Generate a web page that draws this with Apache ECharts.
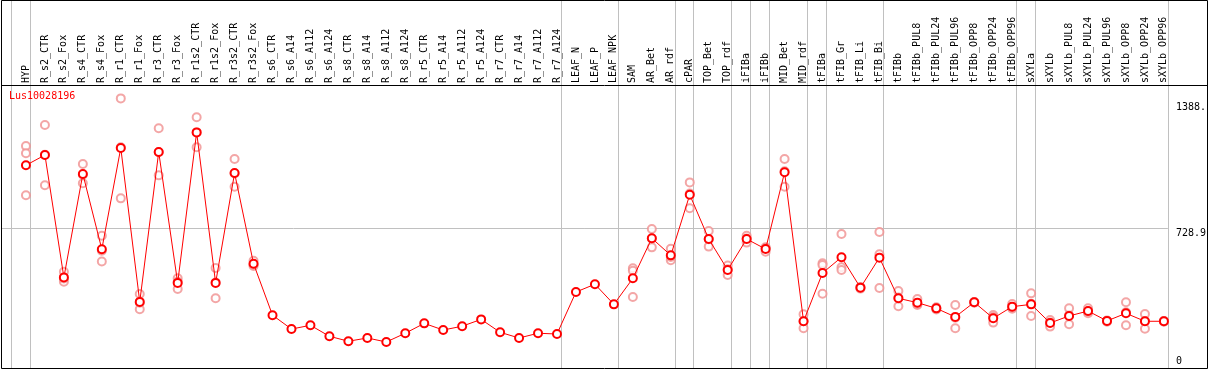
<!DOCTYPE html>
<html>
<head>
<meta charset="utf-8">
<script src="https://cdn.jsdelivr.net/npm/echarts@6/dist/echarts.min.js"></script>
<style>
html,body{margin:0;padding:0;background:#fff;}
#chart{width:1209px;height:370px;}
</style>
</head>
<body>
<div id="chart"></div>
<script>
// ---------- data ----------
const categories = [
  'HYP','R_s2_CTR','R_s2_Fox','R_s4_CTR','R_s4_Fox','R_r1_CTR','R_r1_Fox','R_r3_CTR','R_r3_Fox',
  'R_r1s2_CTR','R_r1s2_Fox','R_r3s2_CTR','R_r3s2_Fox','R_s6_CTR','R_s6_A14','R_s6_A112','R_s6_A124',
  'R_s8_CTR','R_s8_A14','R_s8_A112','R_s8_A124','R_r5_CTR','R_r5_A14','R_r5_A112','R_r5_A124',
  'R_r7_CTR','R_r7_A14','R_r7_A112','R_r7_A124','LEAF_N','LEAF_P','LEAF_NPK','SAM','AR_Bet','AR_rdf',
  'cPAR','TOP_Bet','TOP_rdf','iFIBa','iFIBb','MID_Bet','MID_rdf','tFIBa','tFIB_Gr','tFIB_Li','tFIB_Bi',
  'tFIBb','tFIBb_PUL8','tFIBb_PUL24','tFIBb_PUL96','tFIBb_OPP8','tFIBb_OPP24','tFIBb_OPP96',
  'sXYLa','sXYLb','sXYLb_PUL8','sXYLb_PUL24','sXYLb_PUL96','sXYLb_OPP8','sXYLb_OPP24','sXYLb_OPP96'
];
const meanValues = [
  1059,1113,469,1013,617,1150,340,1129,440,
  1232,440,1018,541,270,197,217,159,
  133,150,129,175,227,192,212,248,
  180,150,175,171,392,433,327,464,675,585,
  904,671,508,671,618,1022,238,492,575,415,573,
  359,336,306,261,338,254,315,
  327,229,266,292,240,280,238,238
];
const rep1 = [
  1160,1271,499,1066,688,1411,382,1254,464,
  1312,518,1092,557,null,null,null,null,
  null,null,null,null,null,null,null,null,
  null,null,null,null,null,null,null,517,724,620,
  969,713,531,688,627,1092,275,543,697,418,708,
  397,355,312,324,340,271,329,
  385,245,306,306,242,338,276,240
];
const rep2 = [
  1122,954,446,964,553,885,301,1006,408,
  1154,359,946,529,null,null,null,null,
  null,null,null,null,null,null,null,null,
  null,null,null,null,null,null,null,504,627,559,
  833,631,482,652,604,946,201,534,522,410,591,
  317,324,300,201,336,231,304,
  266,210,222,280,236,217,199,236
];
const rep3 = [
  901,1114,463,1009,609,1154,336,1128,446,
  1232,442,1016,537,null,null,null,null,
  null,null,null,null,null,null,null,null,
  null,null,null,null,null,null,null,366,673,576,
  910,670,512,673,624,1028,238,383,508,416,413,
  363,329,306,257,338,260,311,
  330,232,269,290,240,285,239,238
];
// first category index of each sample group (+ end)
const groupStarts = [0,1,29,32,35,36,38,39,40,42,43,46,53,54,61];
const yTickValues = [728.9, 1388];
const yTickLabels = ['728.9', '1388.'];
const yZeroValue = [0];
const yZeroLabel = ['0'];
const geneName = 'Lus10028196';
const gridValue = 728.9;

// ---------- chart ----------
const FONT = '"DejaVu Sans Mono", monospace';
const PT_OFF = 15 / 19; // point sits 15px into a 19px column
const toXY = arr => arr.map((v, i) => v == null ? null : [i, v]).filter(d => d);

const chart = echarts.init(document.getElementById('chart'), null, {renderer: 'canvas'});
const option = {
  animation: false,
  backgroundColor: '#fff',
  title: {
    text: geneName, left: 9, top: 91, padding: 0,
    textStyle: {color: '#ff0000', fontSize: 10, fontWeight: 'normal', fontFamily: FONT}
  },
  grid: {left: 2, right: 39, top: 1, bottom: 2, containLabel: false},
  xAxis: {
    type: 'value', position: 'top', offset: -84,
    min: -24 / 19, max: categories.length - PT_OFF,
    axisLine: {show: false, onZero: false},
    axisTick: {show: false},
    splitLine: {show: false},
    axisLabel: {
      customValues: categories.map((c, i) => i),
      formatter: v => categories[Math.round(v)] || '',
      rotate: -90, margin: 2, fontSize: 10, fontFamily: FONT, color: '#000'
    }
  },
  yAxis: [
    {
      type: 'value', position: 'right', min: -7.894, max: 1923.6,
      axisLine: {show: false, onZero: false}, axisTick: {show: false}, splitLine: {show: false},
      axisLabel: {
        customValues: yTickValues,
        formatter: v => yTickLabels[yTickValues.indexOf(v)],
        verticalAlign: 'top', align: 'left', margin: 8,
        fontSize: 10, fontFamily: FONT, color: '#000'
      }
    },
    {
      type: 'value', position: 'right', min: -7.894, max: 1923.6,
      axisLine: {show: false, onZero: false}, axisTick: {show: false}, splitLine: {show: false},
      axisLabel: {
        customValues: yZeroValue,
        formatter: v => yZeroLabel[yZeroValue.indexOf(v)],
        verticalAlign: 'bottom', align: 'left', margin: 8,
        fontSize: 10, fontFamily: FONT, color: '#000'
      }
    }
  ],
  graphic: [
    {type: 'rect', silent: true, z: 100,
     shape: {x: 1.5, y: 0.5, width: 1206, height: 368},
     style: {fill: null, stroke: '#000', lineWidth: 1}},
    {type: 'line', silent: true, z: 100,
     shape: {x1: 1.5, y1: 85.5, x2: 1207.5, y2: 85.5},
     style: {stroke: '#000', lineWidth: 1}}
  ],
  series: [
    {type: 'scatter', name: 'rep1', data: toXY(rep1), symbol: 'emptyCircle', symbolSize: 8,
     itemStyle: {color: '#f09090', borderWidth: 1}, z: 2},
    {type: 'scatter', name: 'rep2', data: toXY(rep2), symbol: 'emptyCircle', symbolSize: 8,
     itemStyle: {color: '#f09090', borderWidth: 1}, z: 2},
    {type: 'scatter', name: 'rep3', data: toXY(rep3), symbol: 'emptyCircle', symbolSize: 8,
     itemStyle: {color: '#f09090', borderWidth: 1}, z: 2},
    {
      type: 'line', name: geneName, data: toXY(meanValues),
      symbol: 'emptyCircle', symbolSize: 8, showAllSymbol: true,
      lineStyle: {color: '#ff0000', width: 1},
      itemStyle: {color: '#ff0000', borderWidth: 1.5},
      z: 3,
      markLine: {
        silent: true, symbol: 'none', animation: false,
        label: {show: false},
        lineStyle: {color: '#c0c0c0', type: 'solid', width: 1},
        data: groupStarts.map(b => ({xAxis: b - PT_OFF})).concat([{yAxis: gridValue}]),
        z: 1
      }
    }
  ]
};
chart.setOption(option);
</script>
</body>
</html>
